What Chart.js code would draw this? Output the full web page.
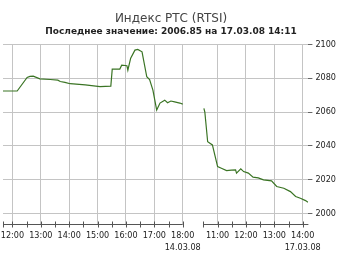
<!DOCTYPE html>
<html>
<head>
<meta charset="utf-8">
<script src="https://cdn.jsdelivr.net/npm/chart.js@4/dist/chart.umd.min.js"></script>
<style>
  html, body { margin: 0; padding: 0; background: #fff; }
</style>
</head>
<body>
<canvas id="rtsi_chart" width="340" height="255"></canvas>
<script>
// 14.03.08 session
var day1Times = ['11:40', '12:10', '12:31', '12:37', '12:44', '12:58', '13:20', '13:36', '13:41', '13:51',
                 '14:02', '14:34', '15:05', '15:28', '15:31', '15:47', '15:51', '16:02', '16:04', '16:10',
                 '16:19', '16:25', '16:34', '16:44', '16:50', '16:57', '17:05', '17:12', '17:22', '17:28',
                 '17:35', '17:43', '17:54', '18:00'];
var day1Values = [2072.4, 2072.4, 2080.4, 2081.0, 2081.2, 2079.6, 2079.2, 2078.8, 2078.0, 2077.5,
                  2076.7, 2076.0, 2075.0, 2075.3, 2085.3, 2085.3, 2087.6, 2087.3, 2084.7, 2091.8,
                  2096.5, 2096.9, 2095.5, 2080.8, 2079.2, 2072.9, 2061.2, 2065.3, 2067.0, 2065.5,
                  2066.5, 2066.0, 2065.3, 2064.7];

// 17.03.08 session
var day2Times = ['10:31', '10:33', '10:39', '10:49', '11:00', '11:08', '11:19', '11:29', '11:38', '11:40',
                 '11:49', '11:55', '12:05', '12:15', '12:26', '12:37', '12:54', '13:05', '13:20', '13:34',
                 '13:45', '13:55', '14:06', '14:11'];
var day2Values = [2062.2, 2060.0, 2042.5, 2040.6, 2027.8, 2026.9, 2025.5, 2025.8, 2025.9, 2024.0,
                  2026.5, 2024.9, 2024.0, 2021.6, 2021.2, 2020.0, 2019.4, 2016.1, 2015.1, 2013.1,
                  2010.2, 2009.2, 2007.8, 2006.85];

var day1Ticks = ['12:00', '12:30', '13:00', '13:30', '14:00', '14:30', '15:00', '15:30',
                 '16:00', '16:30', '17:00', '17:30', '18:00'];
var day2Ticks = ['10:30', '11:00', '11:30', '12:00', '12:30', '13:00', '13:30', '14:00'];
var day1Date = '14.03.08';
var day2Date = '17.03.08';
var yTicks = [2000, 2020, 2040, 2060, 2080, 2100];

var lastValue = '2006.85';
var lastStamp = '17.03.08 14:11';

/////////////////////////////////////////////////////////

// the two sessions are put on one axis, the overnight break squeezed
var DAY2_SHIFT = 8.23;

function toX(day, t) {
    var p = t.split(':');
    var h = +p[0] + p[1] / 60;
    return day === 2 ? h + DAY2_SHIFT : h;
}

function points(day, times, values) {
    return times.map(function(t, i) {
        return { x: toX(day, t), y: values[i] };
    });
}

var xTickValues = [];
var xTickLabels = [];
var xTickHour = [];
day1Ticks.forEach(function(t, i) {
    xTickValues.push(toX(1, t));
    var hour = t.slice(3) === '00';
    xTickHour.push(hour);
    xTickLabels.push(!hour ? '' : (i === day1Ticks.length - 1 ? [t, day1Date] : t));
});
day2Ticks.forEach(function(t, i) {
    xTickValues.push(toX(2, t));
    var hour = t.slice(3) === '00';
    xTickHour.push(hour);
    xTickLabels.push(!hour ? '' : (i === day2Ticks.length - 1 ? [t, day2Date] : t));
});

var sessions = [
    [toX(1, '11:40'), toX(1, '18:00')],
    [toX(2, '10:30'), toX(2, '14:12')]
];

// axis line with a gap between the sessions, small ticks across it
var axisLine = {
    id: 'axisLine',
    afterDatasetsDraw: function(chart) {
        var ctx = chart.ctx;
        var x = chart.scales.x;
        var yb = chart.chartArea.bottom + 0.5;
        ctx.save();
        ctx.strokeStyle = '#555';
        ctx.lineWidth = 1;
        ctx.beginPath();
        sessions.forEach(function(s) {
            ctx.moveTo(x.getPixelForValue(s[0]), yb);
            ctx.lineTo(x.getPixelForValue(s[1]), yb);
        });
        xTickValues.forEach(function(v) {
            var px = Math.round(x.getPixelForValue(v)) + 0.5;
            ctx.moveTo(px, yb - 3);
            ctx.lineTo(px, yb + 3);
        });
        ctx.moveTo(x.getPixelForValue(sessions[0][0]) + 0.5, yb - 3);
        ctx.lineTo(x.getPixelForValue(sessions[0][0]) + 0.5, yb + 3);
        ctx.stroke();
        ctx.restore();
    }
};

var lineColor = '#3a7424';
var tickFont = '"DejaVu Sans Condensed", "DejaVu Sans", sans-serif';
var titleFont = '"DejaVu Sans", sans-serif';

var chart = new Chart(document.getElementById('rtsi_chart'), {
    type: 'line',
    data: {
        datasets: [
            { data: points(1, day1Times, day1Values), borderColor: lineColor, borderWidth: 1.2,
              pointRadius: 0, lineTension: 0, fill: false },
            { data: points(2, day2Times, day2Values), borderColor: lineColor, borderWidth: 1.2,
              pointRadius: 0, lineTension: 0, fill: false }
        ]
    },
    options: {
        responsive: false,
        animation: false,
        layout: { padding: { left: 3, right: 1, top: 0, bottom: 0 } },
        plugins: {
            legend: { display: false },
            tooltip: { enabled: false },
            title: {
                display: true,
                text: 'Индекс РТС (RTSI)',
                color: '#444',
                font: { family: titleFont, size: 12, weight: 'normal' },
                padding: { top: 12, bottom: 0 }
            },
            subtitle: {
                display: true,
                text: 'Последнее значение: ' + lastValue + ' на ' + lastStamp,
                color: '#222',
                font: { family: titleFont, size: 9, weight: 'bold' },
                padding: { top: 0, bottom: 7 }
            }
        },
        scales: {
            x: {
                type: 'linear',
                min: toX(1, '11:40'),
                max: toX(2, '14:12'),
                afterBuildTicks: function(scale) {
                    scale.ticks = xTickValues.map(function(v) { return { value: v }; });
                },
                afterFit: function(scale) {
                    scale.height = 31;
                    scale.paddingLeft = 0;
                    scale.paddingRight = 0;
                },
                border: { display: false },
                grid: {
                    color: function(c) { return xTickHour[c.index] ? '#c4c4c4' : 'rgba(0,0,0,0)'; },
                    drawTicks: false
                },
                ticks: {
                    autoSkip: false,
                    maxRotation: 0,
                    padding: 6,
                    color: '#222',
                    font: { family: tickFont, size: 9, lineHeight: 1.3 },
                    callback: function(value, index) { return xTickLabels[index]; }
                }
            },
            y: {
                position: 'right',
                min: 1994,
                max: 2100,
                afterBuildTicks: function(scale) {
                    scale.ticks = yTicks.map(function(v) { return { value: v }; });
                },
                border: { display: false },
                grid: { color: '#c4c4c4', tickColor: '#666', tickLength: 4 },
                ticks: {
                    padding: 3,
                    color: '#222',
                    font: { family: tickFont, size: 9 },
                    callback: function(value) { return String(value); }
                }
            }
        }
    },
    plugins: [axisLine]
});
</script>
</body>
</html>
